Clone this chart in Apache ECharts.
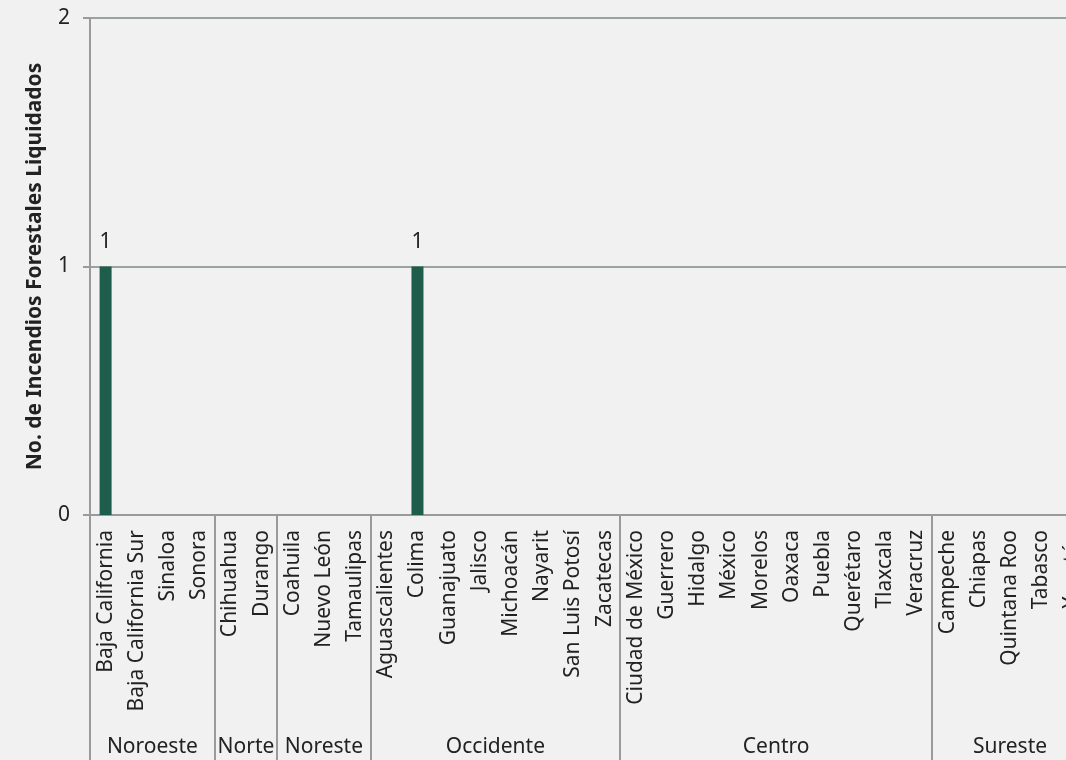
<!DOCTYPE html>
<html>
<head>
<meta charset="utf-8">
<script src="https://cdn.jsdelivr.net/npm/echarts@6/dist/echarts.min.js"></script>
<style>
  html, body { margin: 0; padding: 0; background: #f1f1f1; }
  #chart { width: 1066px; height: 760px; }
</style>
</head>
<body>
<div id="chart"></div>
<script>
// estados (eje x)
const estados = [
  'Baja California', 'Baja California Sur', 'Sinaloa', 'Sonora',
  'Chihuahua', 'Durango',
  'Coahuila', 'Nuevo León', 'Tamaulipas',
  'Aguascalientes', 'Colima', 'Guanajuato', 'Jalisco', 'Michoacán', 'Nayarit', 'San Luis Potosí', 'Zacatecas',
  'Ciudad de México', 'Guerrero', 'Hidalgo', 'México', 'Morelos', 'Oaxaca', 'Puebla', 'Querétaro', 'Tlaxcala', 'Veracruz',
  'Campeche', 'Chiapas', 'Quintana Roo', 'Tabasco', 'Yucatán'
];
// regiones y cuántos estados tiene cada una
const regiones = ['Noroeste', 'Norte', 'Noreste', 'Occidente', 'Centro', 'Sureste'];
const estadosPorRegion = [4, 2, 3, 8, 10, 5];
// incendios liquidados
const incendios = [
  1, 0, 0, 0,
  0, 0,
  0, 0, 0,
  0, 1, 0, 0, 0, 0, 0, 0,
  0, 0, 0, 0, 0, 0, 0, 0, 0, 0,
  0, 0, 0, 0, 0
];
const yTicks = [0, 1, 2];

// límites y centros de cada región (en índices de categoría)
const limites = [];
const centros = {};
let acc = 0;
estadosPorRegion.forEach((n, i) => {
  limites.push(acc);
  centros[acc + n / 2] = regiones[i];
  acc += n;
});

const chart = echarts.init(document.getElementById('chart'));
const font = '"Noto Sans", "Open Sans", sans-serif';

chart.setOption({
  backgroundColor: '#f1f1f1',
  animation: false,
  grid: { left: 90, top: 18, width: 998, height: 497, containLabel: false, outerBoundsMode: 'none' },
  xAxis: [{
    type: 'category',
    data: estados,
    axisLine: { lineStyle: { color: '#9a9a9a', width: 2 } },
    axisTick: {
      show: true,
      interval: (i) => limites.includes(i),
      length: 250,
      lineStyle: { color: '#9a9a9a', width: 2 }
    },
    axisLabel: {
      rotate: 90,
      interval: 0,
      margin: 15,
      color: '#222',
      fontSize: 21,
      fontFamily: font
    }
  }, {
    type: 'value',
    position: 'bottom',
    min: 0,
    max: estados.length,
    interval: 0.5,
    axisLine: { show: false },
    axisTick: { show: false },
    splitLine: { show: false },
    axisLabel: {
      margin: 222,
      color: '#222',
      fontSize: 21,
      fontFamily: font,
      showMinLabel: true,
      showMaxLabel: true,
      formatter: (v) => centros[v] || ''
    }
  }],
  yAxis: {
    type: 'value',
    min: yTicks[0],
    max: yTicks[yTicks.length - 1],
    interval: 1,
    name: 'No. de Incendios Forestales Liquidados',
    nameLocation: 'middle',
    nameGap: 44,
    nameTextStyle: { fontSize: 21, fontWeight: 'bold', color: '#222', fontFamily: font },
    axisLine: { show: true, lineStyle: { color: '#9a9a9a', width: 2 } },
    axisTick: { show: true, length: 7, lineStyle: { color: '#9a9a9a', width: 2 } },
    axisLabel: { margin: 20, fontSize: 21, color: '#222', fontFamily: font },
    splitLine: { lineStyle: { color: '#9aa39e', width: 2 } }
  },
  series: [{
    type: 'bar',
    data: incendios.map(v => v === 0 ? null : v),
    barWidth: 12,
    itemStyle: { color: '#1e5c4b' },
    label: {
      show: true,
      position: 'top',
      distance: 14,
      color: '#222',
      fontSize: 21,
      fontFamily: font
    }
  }]
});
</script>
</body>
</html>
